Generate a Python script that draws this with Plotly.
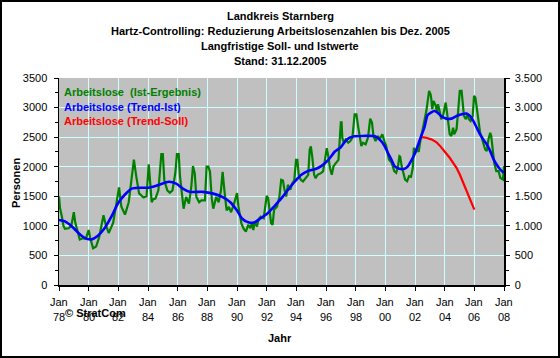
import plotly.graph_objects as go

# ---------------- data ----------------
ist_years = [1978.00, 1978.07, 1978.20, 1978.30, 1978.40, 1978.65, 1978.83, 1979.00, 1979.10, 1979.30,
             1979.40, 1979.60, 1979.80, 1980.00, 1980.10, 1980.30, 1980.50, 1980.70, 1981.00, 1981.15,
             1981.35, 1981.65, 1981.80, 1982.05, 1982.20, 1982.45, 1982.70, 1982.90, 1983.05, 1983.20,
             1983.40, 1983.70, 1983.90, 1984.05, 1984.15, 1984.25, 1984.35, 1984.50, 1984.70, 1984.90,
             1985.00, 1985.10, 1985.30, 1985.47, 1985.65, 1985.84, 1985.95, 1986.07, 1986.16, 1986.28,
             1986.40, 1986.57, 1986.76, 1986.92, 1987.03, 1987.15, 1987.26, 1987.45, 1987.60, 1987.84,
             1987.95, 1988.07, 1988.18, 1988.30, 1988.40, 1988.60, 1988.76, 1988.92, 1989.03, 1989.15,
             1989.30, 1989.45, 1989.60, 1989.80, 1990.00, 1990.10, 1990.30, 1990.45, 1990.60, 1990.75,
             1990.90, 1991.00, 1991.10, 1991.20, 1991.35, 1991.45, 1991.60, 1991.80, 1991.90, 1992.00,
             1992.10, 1992.20, 1992.30, 1992.40, 1992.50, 1992.70, 1992.86, 1992.98, 1993.10, 1993.20,
             1993.32, 1993.43, 1993.60, 1993.70, 1993.86, 1993.98, 1994.07, 1994.16, 1994.30, 1994.45,
             1994.60, 1994.80, 1994.90, 1994.98, 1995.07, 1995.20, 1995.30, 1995.43, 1995.66, 1995.80,
             1995.93, 1996.05, 1996.16, 1996.27, 1996.39, 1996.50, 1996.66, 1996.84, 1997.00, 1997.05,
             1997.10, 1997.20, 1997.33, 1997.50, 1997.64, 1997.78, 1997.93, 1998.05, 1998.16, 1998.27,
             1998.38, 1998.50, 1998.67, 1998.83, 1998.98, 1999.10, 1999.20, 1999.34, 1999.50, 1999.60,
             1999.80, 1999.95, 2000.06, 2000.24, 2000.40, 2000.50, 2000.60, 2000.73, 2000.84, 2000.95,
             2001.00, 2001.10, 2001.20, 2001.33, 2001.47, 2001.60, 2001.73, 2001.85, 2001.92, 2002.03,
             2002.14, 2002.25, 2002.35, 2002.45, 2002.55, 2002.65, 2002.77, 2002.95, 2003.05, 2003.10,
             2003.16, 2003.25, 2003.40, 2003.48, 2003.55, 2003.66, 2003.77, 2003.89, 2004.00, 2004.07,
             2004.16, 2004.25, 2004.34, 2004.45, 2004.57, 2004.64, 2004.80, 2004.90, 2005.02, 2005.14,
             2005.20, 2005.30, 2005.43, 2005.52, 2005.64, 2005.75, 2005.89, 2005.98, 2006.07, 2006.16,
             2006.27, 2006.39, 2006.50, 2006.60, 2006.73, 2006.84, 2006.95, 2007.07, 2007.14, 2007.25,
             2007.34, 2007.48, 2007.64, 2007.75, 2007.93, 2008.00]
ist_values = [1500, 1300, 1150, 1000, 950, 960, 1000, 1230, 1050, 830,
              770, 790, 780, 930, 800, 620, 650, 800, 1180, 1020,
              880, 1050, 1250, 1650, 1330, 1190, 1400, 1790, 2120, 1850,
              1550, 1480, 1500, 2040, 1700, 1400, 1450, 1460, 1600, 2215,
              2215, 1770, 1600, 1560, 1600, 1890, 2215, 2215, 1830, 1545,
              1290, 1490, 1375, 1660, 2010, 1890, 1490, 1400, 1430, 1430,
              2000, 2000, 1915, 1460, 1290, 1490, 1400, 1600, 1915, 1600,
              1260, 1320, 1230, 1375, 1555, 1320, 1035, 950, 904, 1017,
              960, 1045, 930, 1073, 990, 1113, 1157, 1130, 1327, 1507,
              1470, 1270, 1045, 1017, 1270, 1327, 1496, 1778, 1767, 1609,
              1496, 1693, 1609, 1710, 1767, 2116, 2116, 1863, 1778, 1750,
              1806, 1863, 2286, 2342, 2173, 1863, 1806, 1863, 1891, 1920,
              2116, 2314, 2173, 1975, 1863, 2004, 2060, 2116, 2750, 2750,
              2490, 2405, 2460, 2405, 2434, 2490, 2887, 2887, 2690, 2490,
              2349, 2405, 2377, 2490, 2813, 2745, 2519, 2434, 2519, 2462,
              2547, 2420, 2349, 2123, 2077, 2010, 1925, 1896, 1981, 2179,
              2170, 2010, 1896, 1783, 1755, 1840, 1828, 1981, 2321, 2236,
              2290, 2250, 2420, 2560, 2680, 2800, 2950, 3283, 3226, 3141,
              2972, 3113, 3028, 2915, 3057, 2943, 2802, 2858, 3028, 3085,
              2915, 2717, 2547, 2519, 2660, 2547, 2632, 2915, 3283, 3283,
              3141, 2858, 2802, 2887, 2802, 2774, 2858, 3198, 3170, 3000,
              2745, 2575, 2490, 2405, 2292, 2264, 2462, 2575, 2519, 2264,
              2066, 1925, 1925, 1811, 1783, 2010]

trend_years = [1978.00, 1978.40, 1978.87, 1979.33, 1979.70, 1980.16, 1980.60, 1981.07, 1981.54, 1982.00,
               1982.45, 1982.90, 1983.40, 1984.05, 1984.70, 1985.40, 1985.90, 1986.35, 1986.80, 1987.70,
               1988.40, 1989.00, 1989.55, 1990.00, 1990.35, 1990.80, 1991.15, 1991.60, 1992.07, 1992.50,
               1993.00, 1993.43, 1993.90, 1994.34, 1994.80, 1995.25, 1995.70, 1996.16, 1996.60, 1997.00,
               1997.30, 1997.60, 1997.90, 1998.50, 1999.30, 1999.72, 1999.95, 2000.17, 2000.40, 2000.62,
               2000.95, 2001.30, 2001.50, 2001.73, 2001.96, 2002.18, 2002.40, 2002.63, 2002.84, 2003.07,
               2003.30, 2003.52, 2003.75, 2004.10, 2004.45, 2004.80, 2005.14, 2005.48, 2005.70, 2005.93,
               2006.16, 2006.39, 2006.60, 2006.84, 2007.07, 2007.30, 2007.50, 2007.75, 2007.98]
trend_values = [1100, 1075, 990, 875, 800, 770, 830, 960, 1160, 1390,
                1530, 1630, 1645, 1645, 1690, 1745, 1715, 1630, 1575, 1575,
                1545, 1490, 1400, 1260, 1120, 1056, 1056, 1130, 1214, 1327,
                1468, 1609, 1750, 1863, 1930, 1958, 2015, 2116, 2257, 2330,
                2430, 2490, 2515, 2520, 2515, 2434, 2350, 2236, 2123, 2010,
                1964, 1964, 2000, 2094, 2207, 2349, 2508, 2660, 2870, 2915,
                2943, 2915, 2858, 2813, 2813, 2858, 2887, 2900, 2858, 2774,
                2660, 2547, 2462, 2377, 2264, 2123, 2038, 1953, 1896]

soll_years = [2002.47, 2002.75, 2003.10, 2003.43, 2003.66, 2003.89, 2004.10, 2004.34, 2004.57, 2004.80,
              2005.02, 2005.25, 2005.48, 2005.70, 2005.90, 2006.00]
soll_values = [2500, 2490, 2462, 2417, 2360, 2292, 2236, 2151, 2066, 1981,
               1868, 1726, 1613, 1472, 1358, 1274]

x_tick_years = [1978, 1980, 1982, 1984, 1986, 1988, 1990, 1992, 1994, 1996, 1998, 2000, 2002, 2004, 2006, 2008]
x_tick_month = "Jan"
x_tick_yy = ["78", "80", "82", "84", "86", "88", "90", "92", "94", "96", "98", "00", "02", "04", "06", "08"]
y_ticks = [0, 500, 1000, 1500, 2000, 2500, 3000, 3500]
y_left_labels = ["0", "500", "1000", "1500", "2000", "2500", "3000", "3500"]
y_right_labels = ["0", "500", "1.000", "1.500", "2.000", "2.500", "3.000", "3.500"]

series_names = ["Arbeitslose  (Ist-Ergebnis)", "Arbeitslose (Trend-Ist)", "Arbeitslose (Trend-Soll)"]
title_lines = ["Landkreis Starnberg",
               "Hartz-Controlling: Reduzierung Arbeitslosenzahlen bis Dez. 2005",
               "Langfristige Soll- und Istwerte",
               "Stand: 31.12.2005"]

# ---------------- figure ----------------
W, H = 560, 358
L, R, T, B = 59, 504, 78, 285   # plot area pixel box


def px(xp):
    return (xp - L) / (R - L)


def py(yp):
    return (B - yp) / (B - T)


FONT = "Liberation Sans, Arial, sans-serif"
GREEN, BLUE, RED = "#008000", "#0000FF", "#FF0000"

fig = go.Figure()
fig.add_trace(go.Scatter(x=ist_years, y=ist_values, mode="lines", name=series_names[0],
                         line=dict(color=GREEN, width=2.2)))
fig.add_trace(go.Scatter(x=trend_years, y=trend_values, mode="lines", name=series_names[1],
                         line=dict(color=BLUE, width=2.6, shape="spline", smoothing=0.6)))
fig.add_trace(go.Scatter(x=soll_years, y=soll_values, mode="lines", name=series_names[2],
                         line=dict(color=RED, width=2.2)))
# invisible trace to activate the right axis
fig.add_trace(go.Scatter(x=[1978], y=[0], yaxis="y2", mode="lines", showlegend=False,
                         line=dict(width=0), hoverinfo="skip"))

grid_col = "#CCFFFF"
fig.update_layout(
    width=W, height=H,
    margin=dict(l=L, r=W - R, t=T, b=H - B, pad=0),
    paper_bgcolor="white", plot_bgcolor="#C0C0C0",
    showlegend=False,
    font=dict(family=FONT, size=11, color="black"),
    xaxis=dict(range=[1978, 2008], tickmode="array", tickvals=x_tick_years, showticklabels=False,
               showgrid=True, gridcolor=grid_col, gridwidth=1, zeroline=False,
               showline=True, linecolor="black", linewidth=1.5,
               ticks="outside", ticklen=4, tickcolor="black", tickwidth=1),
    yaxis=dict(range=[0, 3500], tickmode="array", tickvals=y_ticks, ticktext=y_left_labels,
               showgrid=True, gridcolor=grid_col, gridwidth=1, zeroline=False,
               showline=True, linecolor="black", linewidth=1.5,
               ticks="outside", ticklen=4, tickcolor="black", tickwidth=1, ticklabelstandoff=4,
               minor=dict(dtick=250, tick0=0, ticks="outside", ticklen=3, tickcolor="black", showgrid=False),
               tickfont=dict(family=FONT, size=11, color="black")),
    yaxis2=dict(range=[0, 3500], overlaying="y", side="right", tickmode="array", tickvals=y_ticks,
                ticktext=y_right_labels, showgrid=False, zeroline=False,
                showline=True, linecolor="black", linewidth=1.5,
                ticks="outside", ticklen=4, tickcolor="black", tickwidth=1, ticklabelstandoff=3,
                minor=dict(dtick=250, tick0=0, ticks="outside", ticklen=3, tickcolor="black"),
                tickfont=dict(family=FONT, size=11, color="black")),
)

ann = []
# x tick labels (two rows, like the reference)
for yr, yy in zip(x_tick_years, x_tick_yy):
    ann.append(dict(text=x_tick_month, x=yr, y=py(302), xref="x", yref="paper",
                    xanchor="center", yanchor="middle", showarrow=False,
                    font=dict(family=FONT, size=11, color="black")))
    ann.append(dict(text=yy, x=yr, y=py(317), xref="x", yref="paper",
                    xanchor="center", yanchor="middle", showarrow=False,
                    font=dict(family=FONT, size=11, color="black")))
for t, yy in zip(title_lines, [16, 31, 46, 61]):
    ann.append(dict(text="<b>" + t + "</b>", x=px(280), y=py(yy), xref="paper", yref="paper",
                    xanchor="center", yanchor="middle", showarrow=False,
                    font=dict(family=FONT, size=11, color="black")))
for name, col, yy in zip(series_names, [GREEN, BLUE, RED], [92, 107, 121]):
    ann.append(dict(text="<b>" + name + "</b>", x=px(62), y=py(yy), xref="paper", yref="paper",
                    xanchor="left", yanchor="middle", showarrow=False,
                    font=dict(family=FONT, size=11, color=col)))
ann.append(dict(text="<b>Personen</b>", x=px(16), y=py(183), xref="paper", yref="paper",
                xanchor="center", yanchor="middle", textangle=-90, showarrow=False,
                font=dict(family=FONT, size=11, color="black")))
ann.append(dict(text="<b>Jahr</b>", x=px(280), y=py(338), xref="paper", yref="paper",
                xanchor="center", yanchor="middle", showarrow=False,
                font=dict(family=FONT, size=11, color="black")))
ann.append(dict(text="<b>© StratCom</b>", x=px(63), y=py(313), xref="paper", yref="paper",
                xanchor="left", yanchor="middle", showarrow=False,
                font=dict(family=FONT, size=11, color="black")))
fig.update_layout(annotations=ann)

# outer black frame
fig.add_shape(type="rect", xref="paper", yref="paper",
              x0=px(1), x1=px(559), y0=py(357), y1=py(1),
              line=dict(color="black", width=2), fillcolor="rgba(0,0,0,0)", layer="above")

# remove the browser's default 8px body margin so the figure sits at the window origin
fig.write_html("out.html",
               config={"displayModeBar": False, "staticPlot": True},
               post_script="document.body.style.margin='0';document.body.style.overflow='hidden';")
